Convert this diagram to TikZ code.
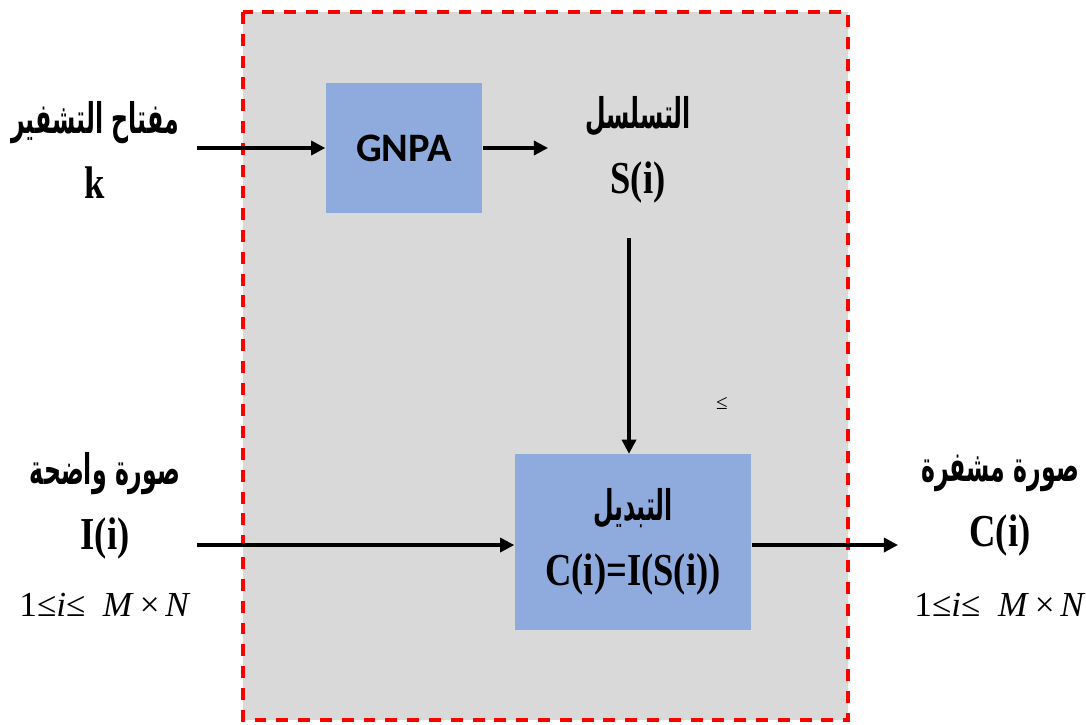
\documentclass[tikz,border=0pt]{standalone}
\usepackage{fontspec}
\setmainfont{Liberation Serif}
\newfontfamily\labelfont[FakeStretch=0.8]{Liberation Serif}
\newfontfamily\arabicfont[Script=Arabic, FakeStretch=0.56]{DejaVu Sans}
\newfontfamily\blockfont{Carlito}
\TeXXeTstate=1
\usetikzlibrary{arrows.meta}
\definecolor{panelgray}{HTML}{D9D9D9}
\definecolor{blockblue}{HTML}{8FAADC}
\definecolor{framered}{HTML}{FF0000}

\begin{document}
\begin{tikzpicture}[x=0.01cm,y=-0.01cm]
            \tikzstyle{every node}=[font=\labelfont\bfseries\fontsize{13}{18.5}\selectfont, align=center, inner sep=0pt]
            \tikzstyle{block}=[fill=blockblue, inner sep=0pt]
            \tikzstyle{flow}=[line width=0.9pt, -{Triangle[length=4pt,width=4pt]}]
            \tikzstyle{indexrange}=[font=\rmfamily\fontsize{10}{12}\selectfont]
            \useasboundingbox (0,0) rectangle (1086,724);

            % dashed frame of the permutation stage
            \draw[framered, fill=panelgray, line width=1.1pt, dash pattern=on 3.4pt off 2.8pt] (243,12) rectangle (848,720);

            \node[block, minimum width=1.56cm, minimum height=1.29cm, font=\blockfont\bfseries\fontsize{11.5}{14}\selectfont] (gnpa) at (404,148) {GNPA};
            \node[block, minimum width=2.36cm, minimum height=1.75cm] (perm) at (633,542) {{\arabicfont\fontsize{12}{14}\selectfont\beginR التبديل\endR}\\C(i)=I(S(i))};

            % labels
            \node (key) at (95,150) {{\arabicfont\fontsize{12}{14}\selectfont\beginR مفتاح التشفير\endR}\\k};
            \node (seq) at (638,150) {{\arabicfont\fontsize{12}{14}\selectfont\beginR التسلسل\endR}\\S(i)};
            \node (plain) at (105,506) {{\arabicfont\fontsize{12}{14}\selectfont\beginR صورة واضحة\endR}\\I(i)};
            \node[indexrange] (plainrange) at (105,605) {1≤\textit{i}≤\enspace\textit{M}\,×\,\textit{N}};
            \node (cipher) at (1000,506) {{\arabicfont\fontsize{12}{14}\selectfont\beginR صورة مشفرة\endR}\\C(i)};
            \node[indexrange] (cipherrange) at (1000,605) {1≤\textit{i}≤\enspace\textit{M}\,×\,\textit{N}};
            \node[font=\rmfamily\fontsize{6}{7}\selectfont] (mark) at (722,403) {≤};

            % arrows
            \coordinate (keyout) at (197,148);
            \coordinate (seqin) at (548,148);
            \coordinate (seqout) at (629,238);
            \coordinate (plainout) at (197,545);
            \coordinate (cipherin) at (898,545);
            \draw[flow] (keyout) -- (gnpa);
            \draw[flow] (gnpa) -- (seqin);
            \draw[flow] (seqout) -- (seqout |- perm.north);
            \draw[flow] (plainout) -- (plainout -| perm.west);
            \draw[flow] (perm.east |- cipherin) -- (cipherin);
        \end{tikzpicture}
\end{document}
